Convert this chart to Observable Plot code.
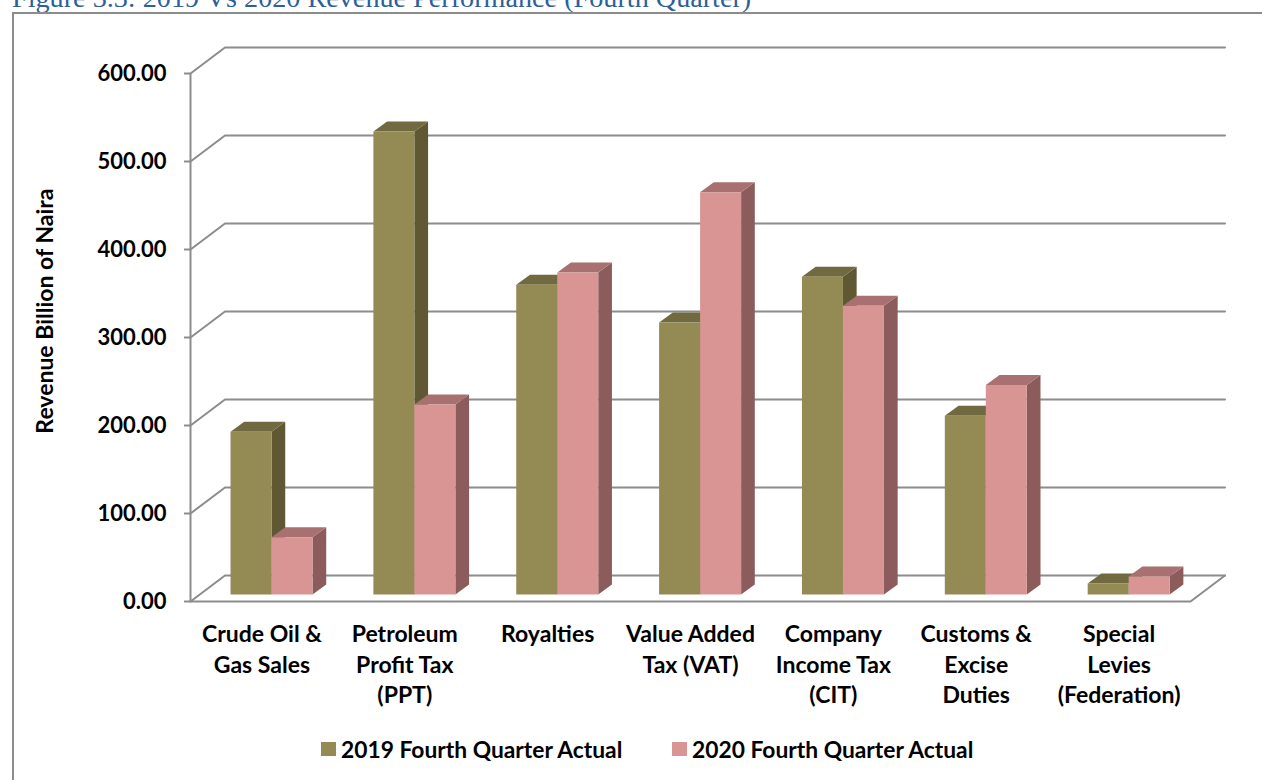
<!DOCTYPE html>
<html><head><meta charset="utf-8">
<script src="https://cdn.jsdelivr.net/npm/d3@7"></script>
<script src="https://cdn.jsdelivr.net/npm/@observablehq/plot@0.6"></script>
<style>
html,body{margin:0;padding:0;background:#fff;overflow:hidden}
#page{position:relative;width:1262px;height:780px;overflow:hidden}
#title{position:absolute;left:12px;top:-18px;font:28.2px "Liberation Serif",serif;color:#2e5f9b;white-space:nowrap}
#frame{position:absolute;left:12px;top:12px;width:1250px;height:768px;border-left:2px solid #8c8c8c;border-top:2px solid #8c8c8c;box-sizing:border-box}
#chart{position:absolute;left:0;top:0}
#legend{position:absolute;left:321px;top:735px;display:flex;font:bold 22.8px Lato,sans-serif;color:#000;white-space:nowrap}
.item{position:absolute;top:0;display:flex;align-items:center}
.sw{display:inline-block;width:15px;height:14px;margin-right:5px}
</style></head><body>
<div id="page"><div id="title"></div><div id="frame"></div><div id="chart"></div><div id="legend"></div></div>
<script>
const titleText = "Figure 3.3: 2019 Vs 2020 Revenue Performance (Fourth Quarter)";
const categories = ["Crude Oil &\nGas Sales","Petroleum\nProfit Tax\n(PPT)","Royalties","Value Added\nTax (VAT)","Company\nIncome Tax\n(CIT)","Customs &\nExcise\nDuties","Special\nLevies\n(Federation)"];
const series2019 = [185, 526, 352, 309, 361, 203, 12.5];
const series2020 = [65, 216, 366, 457, 328, 238, 20.5];
const seriesNames = ["2019 Fourth Quarter Actual","2020 Fourth Quarter Actual"];
const yTicks = [0,100,200,300,400,500,600];

const pxX = 1000/7, pxY = 528/600;           // px per scale unit
const wallX = 34.5/pxX, wallY = 26/pxY;      // depth of the chart box
const barX = 9.6/pxX, barY = 7/pxY;          // bar front plane
const sideX = 13.7/pxX, sideY = 10/pxY;      // bar depth
const barW = 41/pxX;

const palette = [
  {front:"#948a54", side:"#5f5833", top:"#716a40"},
  {front:"#d99594", side:"#8c5c5c", top:"#a87070"}
];

const polys=[];
categories.forEach((c,i)=>{
  [series2019[i],series2020[i]].forEach((v,s)=>{
    const x0=i+.5+barX-barW+s*barW, x1=x0+barW, b=barY, t=barY+v, p=palette[s];
    const id=i+"-"+s;
    polys.push(...[[x1,b],[x1+sideX,b+sideY],[x1+sideX,t+sideY],[x1,t],[x1,b]].map(q=>({x:q[0],y:q[1],z:id+"s",fill:p.side})));
    polys.push(...[[x0,t],[x0+sideX,t+sideY],[x1+sideX,t+sideY],[x1,t],[x0,t]].map(q=>({x:q[0],y:q[1],z:id+"t",fill:p.top})));
    polys.push(...[[x0,b],[x1,b],[x1,t],[x0,t],[x0,b]].map(q=>({x:q[0],y:q[1],z:id+"f",fill:p.front})));
  });
});

const grid = yTicks.flatMap(v=>[
  {x:0,y:v,z:v},{x:wallX,y:v+wallY,z:v},{x:7+wallX,y:v+wallY,z:v}
]);
const floor = [{x:0,y:0},{x:7,y:0},{x:7+wallX,y:wallY}];
const stroke="#8c8c8c";

const plot = Plot.plot({
  width:1262,height:780,
  marginLeft:190,marginRight:72,marginTop:73,marginBottom:179,
  style:{background:"transparent",overflow:"visible"},
  x:{type:"linear",domain:[0,7],range:[190,1190]},
  y:{type:"linear",domain:[0,600]},
  marks:[
    Plot.line(grid,{x:"x",y:"y",z:"z",stroke,strokeWidth:2,curve:"linear"}),
    Plot.line(floor,{x:"x",y:"y",stroke,strokeWidth:2,curve:"linear"}),
    Plot.ruleX([0],{y1:0,y2:600,stroke,strokeWidth:2}),
    Plot.axisY({ticks:yTicks,tickFormat:d=>d.toFixed(2),tickSize:6,tickPadding:18,stroke,strokeWidth:2,label:null,
      fontFamily:"Lato, sans-serif",fontWeight:"bold",fontSize:22,fill:"#000"}),
    Plot.axisX({ticks:categories.map((c,i)=>i+.5),tickFormat:d=>categories[d-.5],tickSize:0,tickPadding:19,label:null,
      lineHeight:1.33,lineAnchor:"top",fontFamily:"Lato, sans-serif",fontWeight:"bold",fontSize:23,fill:"#000"}),
    Plot.line(polys,{x:"x",y:"y",z:"z",fill:d=>d.fill,stroke:null,curve:"linear"}),
    Plot.text(["Revenue Billion of Naira"],{x:()=>0,y:()=>330,dx:-145,rotate:-90,text:d=>d,
      fontFamily:"Lato, sans-serif",fontWeight:"bold",fontSize:23,fill:"#000"})
  ]
});
document.getElementById("chart").appendChild(plot);
document.getElementById("title").textContent=titleText;
const lg=document.getElementById("legend");
[[0,palette[0].front],[351,palette[1].front]].forEach(([l,c],i)=>{
  const it=document.createElement("div");it.className="item";it.style.left=l+"px";
  it.innerHTML=`<span class="sw" style="background:${c}"></span>`;
  it.appendChild(document.createTextNode(seriesNames[i]));lg.appendChild(it);
});
</script></body></html>
